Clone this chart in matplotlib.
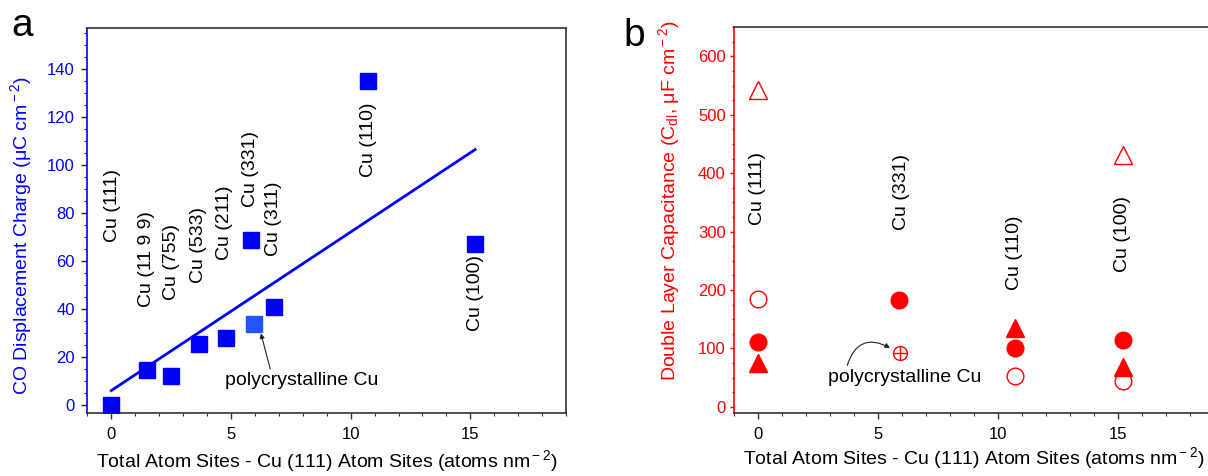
import numpy as np
import matplotlib
matplotlib.use("Agg")
import matplotlib.pyplot as plt
from matplotlib.ticker import MultipleLocator

plt.rcParams["font.family"] = ["Liberation Sans", "DejaVu Sans"]
plt.rcParams["mathtext.fontset"] = "custom"
plt.rcParams["mathtext.rm"] = "Liberation Sans"
plt.rcParams["mathtext.it"] = "Liberation Sans:italic"

# panel a: CO displacement charge vs step-site density
facets_a = ["Cu (111)", "Cu (11 9 9)", "Cu (755)", "Cu (533)", "Cu (211)",
            "Cu (331)", "Cu (311)", "Cu (110)", "Cu (100)"]
sites_a = [0.0, 1.5, 2.5, 3.68, 4.8, 5.83, 6.8, 10.73, 15.2]
charge_a = [0.4, 14.6, 12.1, 25.6, 28.1, 68.8, 41.1, 134.8, 67.0]
poly_site_a = 5.97
poly_charge_a = 34.0

# panel b: double layer capacitance
facets_b = ["Cu (111)", "Cu (331)", "Cu (110)", "Cu (100)"]
sites_b = [0.0, 5.88, 10.7, 15.2]
cdl_open_tri = [543, np.nan, np.nan, 431]
cdl_open_circ = [184, np.nan, 52.6, 44]
cdl_filled_circ = [111.4, 183, 100, 114]
cdl_filled_tri = [75, np.nan, 135.5, 68.6]
poly_site_b = 5.9
poly_cdl_b = 91.5

BLUE = "#0000ff"
RED = "#ff0000"
SPINE = "#333333"
XLABEL = "Total Atom Sites - Cu (111) Atom Sites (atoms nm$^{\\rm -2}$)"

fig = plt.figure(figsize=(12.08, 4.76), dpi=100)
ax_a = fig.add_axes([0.0723, 0.133, 0.3963, 0.808])
ax_b = fig.add_axes([0.6076, 0.1317, 0.3974, 0.811])


def style_axes(ax, color, ylim, ymajor, yminor, ylen, ypad, xpad):
    ax.set_xlim(-1, 19)
    ax.set_ylim(*ylim)
    ax.xaxis.set_major_locator(MultipleLocator(5))
    ax.xaxis.set_minor_locator(MultipleLocator(1))
    ax.yaxis.set_major_locator(MultipleLocator(ymajor))
    ax.yaxis.set_minor_locator(MultipleLocator(yminor))
    for side in ["top", "right", "bottom"]:
        ax.spines[side].set_color(SPINE)
        ax.spines[side].set_linewidth(1.2)
    ax.spines["left"].set_color(color)
    ax.spines["left"].set_linewidth(1.2)
    ax.tick_params(which="both", direction="out", top=False, right=False)
    ax.tick_params(axis="x", which="major", length=4, width=1, labelsize=12,
                   pad=6, color=SPINE)
    ax.tick_params(axis="x", which="minor", length=2.5, width=0.8, color=SPINE)
    ax.tick_params(axis="y", which="major", length=ylen, width=1, labelsize=12,
                   pad=ypad, color=color, labelcolor=color)
    ax.tick_params(axis="y", which="minor", length=ylen * 0.6, width=0.8,
                   color=color)
    ax.set_xlabel(XLABEL, fontsize=14, labelpad=xpad)


# ---- panel a ----
style_axes(ax_a, BLUE, (-3, 157), 20, 5, 4, 5, 5)
ax_a.plot(sites_a, charge_a, "s", color=BLUE, ms=11, zorder=3)
ax_a.plot([poly_site_a], [poly_charge_a], "s", color="#2255ff", ms=11, zorder=3)

slope, icpt = np.polyfit(sites_a, charge_a, 1)
fit_x = np.array([min(sites_a), max(sites_a)])
ax_a.plot(fit_x, slope * fit_x + icpt, "-", color=BLUE, lw=2, zorder=2)

label_pos_a = [(0.04, 68), (1.47, 41), (2.5, 44), (3.65, 51), (4.72, 60.5),
               (5.8, 82.6), (6.78, 62), (10.73, 95), (15.2, 30.8)]
for name, (lx, ly) in zip(facets_a, label_pos_a):
    ax_a.text(lx, ly, name, rotation=90, ha="center", va="bottom", fontsize=14)

ax_a.annotate("polycrystalline Cu", xy=(6.25, 30), xytext=(4.75, 10.5),
              fontsize=14, ha="left", va="center",
              arrowprops=dict(arrowstyle="-|>", color="#222222", lw=0.8,
                              shrinkA=0, shrinkB=0, mutation_scale=7,
                              relpos=(0.3, 1.0)))
ax_a.set_ylabel("CO Displacement Charge (\u03bcC cm$^{\\rm -2}$)", fontsize=14,
                color=BLUE)
ax_a.yaxis.set_label_coords(-0.112, 0.46)

# ---- panel b ----
style_axes(ax_b, RED, (-11, 650), 100, 25, 3, 3, 2)
ax_b.plot(sites_b, cdl_open_tri, "^", ms=13, mfc="none", mec=RED, mew=1,
          zorder=3)
ax_b.plot(sites_b, cdl_open_circ, "o", ms=12, mfc="none", mec=RED, mew=1,
          zorder=3)
ax_b.plot(sites_b, cdl_filled_circ, "o", ms=12, color=RED, zorder=3)
ax_b.plot(sites_b, cdl_filled_tri, "^", ms=13, color=RED, zorder=3)
ax_b.plot([poly_site_b], [poly_cdl_b], "o", ms=10, mfc="none", mec=RED, mew=1,
          zorder=3)
ax_b.plot([poly_site_b], [poly_cdl_b], "+", ms=10, color=RED, mew=1, zorder=3)

label_pos_b = [(0.0, 311), (5.99, 303), (10.7, 200), (15.2, 231)]
for name, (lx, ly) in zip(facets_b, label_pos_b):
    ax_b.text(lx, ly, name, rotation=90, ha="center", va="bottom", fontsize=14)

ax_b.text(2.92, 49.7, "polycrystalline Cu", fontsize=14, ha="left", va="center")
ax_b.annotate("", xy=(5.5, 101), xytext=(3.72, 71),
              arrowprops=dict(arrowstyle="-|>", color="#222222", lw=0.8,
                              shrinkA=0, shrinkB=0, mutation_scale=7,
                              connectionstyle="arc3,rad=-0.6"))
ax_b.set_ylabel("Double Layer Capacitance (C$_{\\rm dl}$, \u03bcF cm$^{\\rm -2}$)",
                fontsize=14, color=RED)
ax_b.yaxis.set_label_coords(-0.108, 0.55)

fig.text(0.0185, 0.945, "a", fontsize=28, ha="center", va="center")
fig.text(0.525, 0.925, "b", fontsize=28, ha="center", va="center")

fig.savefig("out.png", dpi=100)
